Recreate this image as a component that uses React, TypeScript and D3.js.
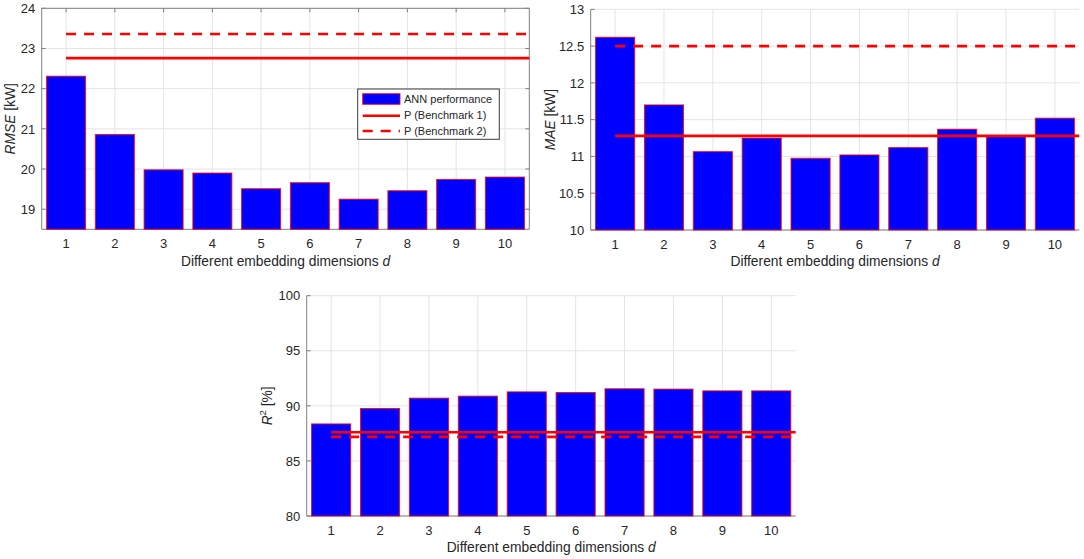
import React from 'react';
import * as d3 from 'd3';

const categories = [1, 2, 3, 4, 5, 6, 7, 8, 9, 10];

const rmseValues = [22.31, 20.86, 19.98, 19.9, 19.51, 19.66, 19.25, 19.46, 19.74, 19.8];
const rmseBench1 = 22.76;
const rmseBench2 = 23.36;
const rmseTicks = [19, 20, 21, 22, 23, 24];

const maeValues = [12.62, 11.7, 11.065, 11.25, 10.975, 11.02, 11.12, 11.37, 11.28, 11.52];
const maeBench1 = 11.28;
const maeBench2 = 12.5;
const maeTicks = [10, 10.5, 11, 11.5, 12, 12.5, 13];

const r2Values = [88.36, 89.76, 90.7, 90.88, 91.27, 91.21, 91.55, 91.52, 91.36, 91.36];
const r2Bench1 = 87.61;
const r2Bench2 = 87.18;
const r2Ticks = [80, 85, 90, 95, 100];

const legendLabels = ['ANN performance', 'P (Benchmark 1)', 'P (Benchmark 2)'];
const xLabelText = 'Different embedding dimensions ';

const FONT = '"Liberation Sans", Arial, Helvetica, sans-serif';
const TEXT = '#262626';
const AXIS = '#808080';
const GRID = '#e4e4e4';
const BLUE = '#0000ff';
const RED = '#ff0000';

type PanelProps = {
  left: number;
  right: number;
  top: number;
  bottom: number;
  yDomain: [number, number];
  yTicks: number[];
  values: number[];
  bench1: number;
  bench2: number;
  box: boolean;
  yLabel: React.ReactNode;
  yLabelX: number;
  legend?: { x: number; y: number; w: number; h: number };
};

function Panel(p: PanelProps) {
  const x = d3.scaleLinear().domain([0.5, 10.5]).range([p.left, p.right]);
  const y = d3.scaleLinear().domain(p.yDomain).range([p.bottom, p.top]);
  const bw = x(0.4) - x(-0.4);
  const tickLen = 4;
  const cy = (p.top + p.bottom) / 2;
  const cx = (p.left + p.right) / 2;
  const lineGen = d3.line<[number, number]>().x((d) => x(d[0])).y((d) => y(d[1]));
  const benchXs = [1, 10.5];
  return (
    <g>
      {p.yTicks.map((t) => (
        <line key={'gy' + t} x1={p.left} x2={p.right} y1={y(t)} y2={y(t)} stroke={GRID} strokeWidth={1} />
      ))}
      {categories.map((c) => (
        <line key={'gx' + c} x1={x(c)} x2={x(c)} y1={p.top} y2={p.bottom} stroke={GRID} strokeWidth={1} />
      ))}
      <line x1={p.left} x2={p.left} y1={p.top} y2={p.bottom} stroke={AXIS} strokeWidth={1} />
      <line x1={p.left} x2={p.right} y1={p.bottom} y2={p.bottom} stroke={AXIS} strokeWidth={1} />
      {p.box && (
        <g>
          <line x1={p.left} x2={p.right} y1={p.top} y2={p.top} stroke={AXIS} strokeWidth={1} />
          <line x1={p.right} x2={p.right} y1={p.top} y2={p.bottom} stroke={AXIS} strokeWidth={1} />
          {categories.map((c) => (
            <line key={'tt' + c} x1={x(c)} x2={x(c)} y1={p.top} y2={p.top + tickLen} stroke={AXIS} />
          ))}
          {p.yTicks.map((t) => (
            <line key={'rt' + t} x1={p.right} x2={p.right - tickLen} y1={y(t)} y2={y(t)} stroke={AXIS} />
          ))}
        </g>
      )}
      {p.yTicks.map((t) => (
        <line key={'lt' + t} x1={p.left} x2={p.left + tickLen} y1={y(t)} y2={y(t)} stroke={AXIS} />
      ))}
      {categories.map((c) => (
        <line key={'bt' + c} x1={x(c)} x2={x(c)} y1={p.bottom} y2={p.bottom - tickLen} stroke={AXIS} />
      ))}
      {p.values.map((v, i) => (
        <rect
          key={'b' + i}
          x={x(categories[i]) - bw / 2}
          y={y(v)}
          width={bw}
          height={p.bottom - y(v)}
          fill={BLUE}
          stroke={RED}
          strokeWidth={1}
          strokeOpacity={0.85}
        />
      ))}
      <path d={lineGen(benchXs.map((bx) => [bx, p.bench1]) as [number, number][]) || ''} stroke={RED} strokeWidth={2.6} fill="none" />
      <path
        d={lineGen(benchXs.map((bx) => [bx, p.bench2]) as [number, number][]) || ''}
        stroke={RED}
        strokeWidth={2.6}
        fill="none"
        strokeDasharray="10,8"
      />
      {p.yTicks.map((t) => (
        <text
          key={'yl' + t}
          x={p.left - 6.5}
          y={y(t)}
          dy="0.36em"
          textAnchor="end"
          fontSize={13}
          fill={TEXT}
          fontFamily={FONT}
        >
          {String(t)}
        </text>
      ))}
      {categories.map((c) => (
        <text key={'xl' + c} x={x(c)} y={p.bottom + 18.5} textAnchor="middle" fontSize={13} fill={TEXT} fontFamily={FONT}>
          {String(c)}
        </text>
      ))}
      <text x={cx} y={p.bottom + 36.3} textAnchor="middle" fontSize={13.8} fill={TEXT} fontFamily={FONT}>
        {xLabelText}
        <tspan fontStyle="italic">d</tspan>
      </text>
      <text
        transform={`translate(${p.yLabelX},${cy}) rotate(-90)`}
        textAnchor="middle"
        fontSize={13.8}
        fill={TEXT}
        fontFamily={FONT}
      >
        {p.yLabel}
      </text>
      {p.legend && (
        <g fontFamily={FONT} fontSize={11} fill={TEXT}>
          <rect x={p.legend.x} y={p.legend.y} width={p.legend.w} height={p.legend.h} fill="#ffffff" stroke="#3a3a3a" strokeWidth={1} />
          <rect x={p.legend.x + 5} y={p.legend.y + 4.7} width={37.3} height={10.6} fill={BLUE} stroke={RED} strokeWidth={1} strokeOpacity={0.85} />
          <line x1={p.legend.x + 5} x2={p.legend.x + 42.3} y1={p.legend.y + 26.7} y2={p.legend.y + 26.7} stroke={RED} strokeWidth={2.6} />
          <line
            x1={p.legend.x + 5}
            x2={p.legend.x + 42.3}
            y1={p.legend.y + 42}
            y2={p.legend.y + 42}
            stroke={RED}
            strokeWidth={2.6}
            strokeDasharray="10,8"
          />
          {legendLabels.map((l, i) => (
            <text key={l} x={p.legend!.x + 46.3} y={p.legend!.y + 10.3 + i * 15.85} dy="0.36em">
              {l}
            </text>
          ))}
        </g>
      )}
    </g>
  );
}

export default function App() {
  return (
    <svg
      width={1084}
      height={559}
      style={{ position: 'absolute', left: 0, top: 0, background: '#ffffff' }}
    >
      <rect x={0} y={0} width={1084} height={559} fill="#ffffff" />
      <Panel
        left={41.7}
        right={529.3}
        top={8.3}
        bottom={229.3}
        yDomain={[18.5, 24]}
        yTicks={rmseTicks}
        values={rmseValues}
        bench1={rmseBench1}
        bench2={rmseBench2}
        box={true}
        yLabelX={15}
        yLabel={
          <>
            <tspan fontStyle="italic">RMSE</tspan>
            <tspan> [kW]</tspan>
          </>
        }
        legend={{ x: 357.7, y: 89, w: 141.6, h: 50.3 }}
      />
      <Panel
        left={590.7}
        right={1079.3}
        top={9.3}
        bottom={230}
        yDomain={[10, 13]}
        yTicks={maeTicks}
        values={maeValues}
        bench1={maeBench1}
        bench2={maeBench2}
        box={false}
        yLabelX={555}
        yLabel={
          <>
            <tspan fontStyle="italic">MAE</tspan>
            <tspan> [kW]</tspan>
          </>
        }
      />
      <Panel
        left={306.7}
        right={795.7}
        top={295.7}
        bottom={516}
        yDomain={[80, 100]}
        yTicks={r2Ticks}
        values={r2Values}
        bench1={r2Bench1}
        bench2={r2Bench2}
        box={false}
        yLabelX={272}
        yLabel={
          <>
            <tspan fontStyle="italic">R</tspan>
            <tspan fontSize={9.5} dy={-6}>2</tspan>
            <tspan dy={6}> [%]</tspan>
          </>
        }
      />
    </svg>
  );
}
